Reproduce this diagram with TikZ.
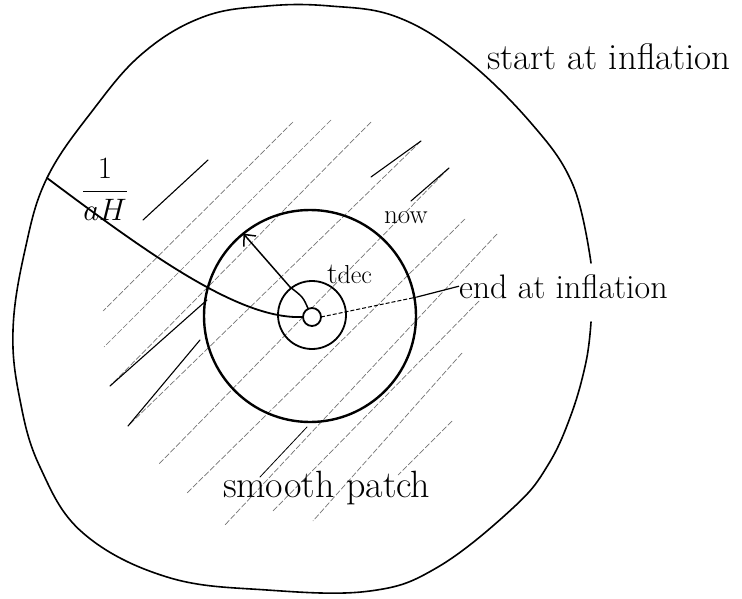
\RequirePackage{fix-cm}
\documentclass[tikz,border=0pt]{standalone}
\usepackage{fontspec}
\setmainfont{Latin Modern Roman}
\usetikzlibrary{arrows.meta}
\begin{document}
\begin{tikzpicture}[x=1pt,y=-1pt,
  outline/.style={line width=1.6pt, line cap=round, line join=round},
  ring/.style={circle, draw, inner sep=0pt, outer sep=0pt},
  hatch/.style={black!55, line width=0.7pt, dash pattern=on 6pt off 2pt},
  hatchbold/.style={black, line width=1.1pt, line cap=round},
  hand/.style={inner sep=0pt, outer sep=0pt},
]
\useasboundingbox (0,0) rectangle (742,599);
% hatching of the smooth patch
\foreach \xa/\ya/\xb/\yb in {293/122/103/311, 331/120/104/347, 371/122/110/386,
  421/141/128/426, 449/168/158/465, 465/219/187/493, 497/234/224/526,
  479/301/272/512, 462/353/313/521, 452/421/398/475}
  \draw[hatch] (\xa,\ya) -- (\xb,\yb);
\draw[hatchbold] (208,160) -- (143,220);
\draw[hatchbold] (207,300) -- (110,386);
\draw[hatchbold] (200,340) -- (128,426);
\draw[hatchbold] (421,141) -- (371,177);
\draw[hatchbold] (449,168) -- (411,201);
\draw[hatchbold, line width=0.8pt] (307,427) -- (260,477);
% outer boundary (start at inflation)
\draw[outline] plot[smooth, tension=0.65] coordinates {(591,322) (586,362) (571,415)
  (548,465) (514,507) (438,567) (370,591) (267,590) (167,577) (83,533) (40,467) (20,400)
  (13,330) (25,250) (47,178) (93,110) (143,53) (203,17) (267,6) (330,6) (397,17)
  (463,57) (531,123) (573,185) (591,263)};
% circles
\node[ring, minimum size=212pt, line width=2.4pt] (nowc) at (310,316) {};
\node[ring, minimum size=68pt, line width=1.8pt] (dec) at (312,315) {};
\node[ring, minimum size=18pt, line width=1.8pt, fill=white] (tiny) at (312,317) {};
% labels
\node[hand, anchor=base west, font=\fontsize{37}{40}\selectfont] (startlbl) at (487,70) {start at inflation};
\node[hand, anchor=base west, font=\fontsize{34}{37}\selectfont] (endlbl) at (459,298) {end at inflation};
\node[hand, anchor=base west, font=\fontsize{27}{30}\selectfont] (nowlbl) at (384,223) {now};
\node[hand, anchor=base west] (declbl) at (327,283) {\fontsize{30}{32}\selectfont t\fontsize{26}{28}\selectfont dec};
\node[hand, anchor=base] (aHlbl) at (105,199) {\fontsize{31}{33}\selectfont$\displaystyle\frac{1}{aH}$};
\node[hand, anchor=base west, font=\fontsize{38}{41}\selectfont] (patchlbl) at (223,497) {smooth patch};
% connectors
\coordinate (aHstart) at (47,178);
\coordinate (ecross) at (417,297);
\draw[line width=1.8pt, line cap=round] (aHstart) .. controls (150,255) and (240,320) .. (tiny.west);
\draw[line width=1.5pt, line cap=round, -{Straight Barb[length=9pt,width=16pt,line width=1.5pt]}]
  (tiny.115) .. controls (303,297) .. (290,287) -- (nowc.129);
\draw[line width=1pt, dash pattern=on 4pt off 2pt] (tiny.east) -- (ecross);
\draw[line width=1.2pt] (ecross) -- (endlbl.west);
\end{tikzpicture}
\end{document}
